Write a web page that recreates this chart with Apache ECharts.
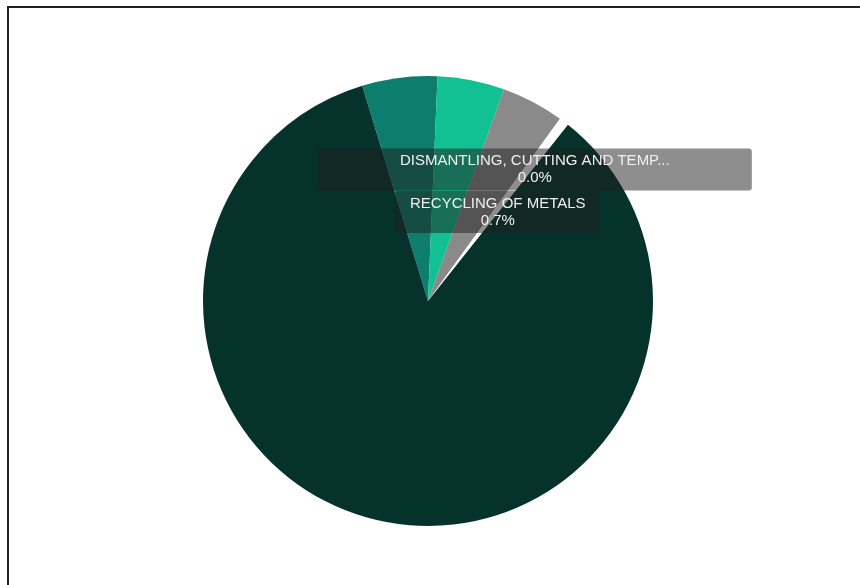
<!DOCTYPE html>
<html>
<head>
<meta charset="utf-8">
<script src="https://cdn.jsdelivr.net/npm/echarts@6/dist/echarts.min.js"></script>
<style>
  html, body { margin: 0; padding: 0; background: #fff; }
  #wrap { position: relative; width: 860px; height: 585px; overflow: hidden; }
  #chart { position: absolute; left: 0; top: 0; width: 860px; height: 585px; }
  #frame { position: absolute; left: 7px; top: 6px; width: 900px; height: 700px;
           border-left: 2px solid #222; border-top: 2px solid #222; pointer-events: none; }
</style>
</head>
<body>
<div id="wrap">
  <div id="chart"></div>
  <div id="frame"></div>
</div>
<script>
// Data (clockwise from the slice left of the top)
const categories = [
  "CATEGORY A",
  "CATEGORY B",
  "CATEGORY C",
  "RECYCLING OF METALS",
  "DISMANTLING, CUTTING AND TEMP...",
  "OTHER"
];
const values = [5.4, 4.8, 4.5, 0.7, 0.01, 84.6];
const showLabel = [false, false, false, true, true, false];
const colors = ["#0d7d6d", "#12c193", "#8a8a8a", "#ffffff", "#ffffff", "#05332c"];

const chart = echarts.init(document.getElementById('chart'), null, { renderer: 'canvas' });

const data = categories.map((name, i) => ({
  name: name,
  value: values[i],
  itemStyle: { color: colors[i] },
  label: { show: showLabel[i] }
}));

chart.setOption({
  animation: false,
  series: [{
    type: 'pie',
    center: [428, 301],
    radius: [0, 225],
    startAngle: 107,
    clockwise: true,
    avoidLabelOverlap: false,
    minShowLabelAngle: 0,
    itemStyle: { borderWidth: 0 },
    labelLine: { show: false },
    label: {
      show: true,
      position: 'inside',
      formatter: function (p) { return p.name + '\n' + p.percent.toFixed(1) + '%'; },
      color: '#f0f0f0',
      fontFamily: 'Liberation Sans, Arial, sans-serif',
      fontSize: 15,
      lineHeight: 17,
      align: 'center',
      backgroundColor: 'rgba(30,30,30,0.5)',
      borderRadius: 3,
      padding: [4, 7]
    },
    labelLayout: function (params) {
      if (params.dataIndex === 4) {
        return { dx: 35, dy: -41, width: 420 };
      }
      if (params.dataIndex === 3) {
        return { dy: 3, width: 191 };
      }
      return {};
    },
    emphasis: { disabled: true },
    data: data
  }]
});
</script>
</body>
</html>
